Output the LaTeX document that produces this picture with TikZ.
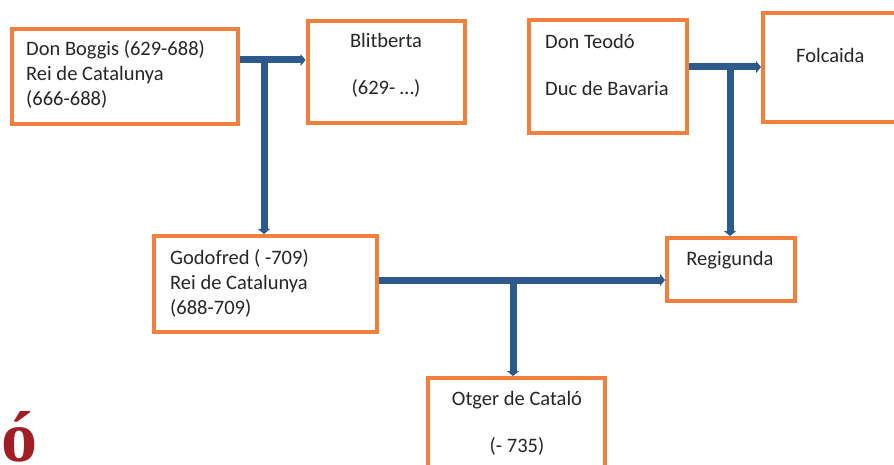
\documentclass[tikz,border=0pt]{standalone}
\usepackage{fontspec}
\setmainfont{Carlito}
\newfontfamily\bigserif{Liberation Serif}
\usetikzlibrary{arrows.meta}

\definecolor{frameorange}{RGB}{240,128,60}
\definecolor{linkblue}{RGB}{44,90,140}
\definecolor{titlered}{RGB}{160,30,36}

\begin{document}
\begin{tikzpicture}[
       x=1pt, y=-1pt,
       persona/.style={
         draw=frameorange,
         line width=4pt,
         fill=white,
         inner sep=0pt
       },
       nom/.style={
         inner sep=0pt,
         text=black!85,
         font=\fontsize{20.5}{25}\selectfont
       },
       lligam/.style={
         draw=linkblue,
         line width=7pt,
         -{Triangle[length=5pt,width=12pt]}
       }
     ]

       \useasboundingbox (0,0) rectangle (894,465);
       \clip (0,0) rectangle (894,465);

       % people
       \node (boggis) at (124.75,76.5) [persona,minimum width=226.5pt,minimum height=95pt]{};
       \node (blitberta) at (386.25,72) [persona,minimum width=157.5pt,minimum height=102pt]{};
       \node (teodo) at (607.75,76.75) [persona,minimum width=157.5pt,minimum height=112.5pt]{};
       \node (folcaida) at (831.5,67.5) [persona,minimum width=137pt,minimum height=109pt]{};
       \node (godofred) at (265.5,283.75) [persona,minimum width=223pt,minimum height=95.5pt]{};
       \node (regigunda) at (731,269.5) [persona,minimum width=128pt,minimum height=63pt]{};
       \node (otger) at (516.5,434) [persona,minimum width=177pt,minimum height=112pt]{};

       % names
       \node (boggis-t) at (26,38) [nom,anchor=north west,align=left]
         {\strut Don Boggis (629-688)\\Rei de Catalunya\\(666-688)};
       \node (blitberta-t) at (386,29.5) [nom,anchor=north,align=center]
         {\strut Blitberta\\[22pt](629- …)};
       \node (teodo-t) at (545,30.5) [nom,anchor=north west,align=left]
         {\strut Don Teodó\\[22pt]Duc de Bavaria};
       \node (folcaida-t) at (796,44.5) [nom,anchor=north west]
         {\strut Folcaida};
       \node (godofred-t) at (170,247) [nom,anchor=north west,align=left]
         {\strut Godofred ( -709)\\Rei de Catalunya\\(688-709)};
       \node (regigunda-t) at (730,247.5) [nom,anchor=north]
         {\strut Regigunda};
       \node (otger-t) at (517,387.5) [nom,anchor=north,align=center]
         {\strut Otger de Cataló\\[22pt](- 735)};

       \node (titol) at (1,461) [anchor=base west,inner sep=0pt,text=titlered,
         font=\bigserif\bfseries\fontsize{72}{72}\selectfont]{ó};

       % couples and children
       \coordinate (j1) at (264,60);
       \coordinate (j2) at (730,67);
       \coordinate (j3) at (513,280);

       \draw[lligam] (boggis.east |- j1) -- (blitberta.west |- j1);
       \draw[lligam] (j1) -- (godofred.north -| j1);

       \draw[lligam] (teodo.east |- j2) -- (folcaida.west |- j2);
       \draw[lligam] (j2) -- (regigunda.north -| j2);

       \draw[lligam] (godofred.east |- j3) -- (regigunda.west |- j3);
       \draw[lligam] (j3) -- (otger.north -| j3);

\end{tikzpicture}
\end{document}
